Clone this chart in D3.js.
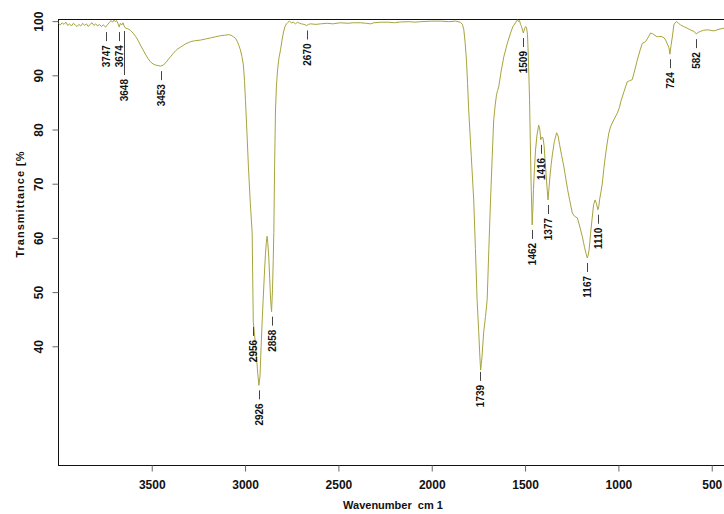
<!DOCTYPE html>
<meta charset="utf-8">
<style>

body {
  margin: 0;
  background: #fff;
}

.axis text {
  font-family: 'Liberation Sans', Arial, sans-serif;
  font-size: 12px;
  font-weight: bold;
  fill: #111;
}

.axis line {
  stroke: #666;
}

.axis path {
  display: none;
}

.frame {
  fill: none;
  stroke: #111;
  stroke-width: 1px;
}

.spectrum {
  fill: none;
  stroke: #a8a43c;
  stroke-width: 1px;
}

.leader {
  stroke: #444;
  stroke-width: 1px;
}

.peak-label {
  font-family: 'Liberation Sans', Arial, sans-serif;
  font-size: 10px;
  font-weight: bold;
  fill: #111;
}

.axis-title {
  font-family: 'Liberation Sans', Arial, sans-serif;
  font-size: 11px;
  font-weight: bold;
  fill: #111;
  white-space: pre;
}

</style>
<body>
<script src="https://d3js.org/d3.v7.min.js" charset="utf-8"></script>
<script>

// IR spectrum (wavenumber in cm-1, transmittance in %)
var wavenumbers = [
  4000, 3990, 3980, 3970, 3960, 3950, 3940, 3930, 3920, 3910,
  3900, 3890, 3880, 3870, 3860, 3850, 3840, 3830, 3820, 3810,
  3800, 3790, 3780, 3770, 3760, 3747, 3738, 3728, 3718, 3710,
  3702, 3695, 3688, 3680, 3674, 3668, 3660, 3654, 3648, 3640,
  3628, 3614, 3600, 3587, 3574, 3561, 3548, 3534, 3520, 3507,
  3493, 3480, 3466, 3453, 3437, 3421, 3410, 3400, 3386, 3373,
  3360, 3346, 3332, 3319, 3305, 3293, 3266, 3239, 3212, 3185,
  3160, 3132, 3110, 3089, 3075, 3062, 3050, 3041, 3033, 3025,
  3017, 3009, 3003, 2998, 2990, 2982, 2972, 2962, 2956, 2950,
  2940, 2932, 2926, 2920, 2914, 2908, 2903, 2897, 2891, 2886,
  2882, 2878, 2873, 2868, 2863, 2858, 2853, 2849, 2846, 2842,
  2837, 2832, 2826, 2818, 2810, 2802, 2794, 2786, 2778, 2770,
  2762, 2752, 2741, 2730, 2719, 2708, 2698, 2685, 2670, 2660,
  2650, 2620, 2596, 2560, 2530, 2489, 2450, 2420, 2382, 2350,
  2328, 2310, 2274, 2230, 2200, 2167, 2120, 2090, 2060, 2000,
  1953, 1910, 1872, 1846, 1836, 1828, 1821, 1814, 1808, 1802,
  1788, 1775, 1766, 1757, 1748, 1742, 1738, 1734, 1730, 1722,
  1712, 1703, 1694, 1685, 1676, 1668, 1660, 1653, 1647, 1641,
  1628, 1614, 1596, 1578, 1565, 1551, 1545, 1540, 1535, 1530,
  1524, 1519, 1509, 1503, 1497, 1492, 1487, 1482, 1476, 1472,
  1468, 1462, 1458, 1455, 1450, 1444, 1436, 1427, 1421, 1416,
  1410, 1404, 1398, 1393, 1385, 1377, 1371, 1366, 1360, 1354,
  1343, 1331, 1323, 1315, 1304, 1292, 1282, 1272, 1260, 1247,
  1235, 1220, 1206, 1193, 1187, 1181, 1174, 1167, 1162, 1157,
  1153, 1149, 1141, 1133, 1125, 1118, 1110, 1105, 1101, 1093,
  1086, 1078, 1069, 1060, 1051, 1042, 1033, 1020, 1006, 995,
  985, 970, 953, 940, 926, 912, 899, 885, 872, 855,
  840, 828, 818, 810, 792, 778, 765, 755, 747, 738,
  729, 724, 718, 711, 703, 696, 688, 678, 667, 650,
  632, 615, 596, 588, 582, 575, 560, 545, 524, 505,
  488, 470, 450, 435, 420, 400
];

var transmittance = [
  99.6, 99.3, 99.7, 99.4, 99.8, 99.2, 99.5, 99.1, 99.6, 99.3,
  99.0, 99.4, 99.1, 99.6, 99.2, 99.5, 99.0, 99.4, 99.7, 99.2,
  99.5, 99.1, 99.4, 99.0, 99.3, 98.9, 99.3, 99.7, 100.1, 99.8,
  100.2, 99.9, 100.1, 99.5, 98.9, 99.6, 99.3, 99.7, 99.1, 98.7,
  98.6, 98.3, 97.8, 97.2, 96.5, 95.6, 94.8, 93.9, 93.1, 92.5,
  92.1, 91.9, 91.8, 91.7, 91.9, 92.5, 93.0, 93.4, 94.0, 94.5,
  94.9, 95.2, 95.5, 95.8, 96.0, 96.2, 96.4, 96.5, 96.7, 96.9,
  97.1, 97.3, 97.4, 97.5, 97.4, 97.1, 96.8, 96.2, 95.5, 94.7,
  93.5, 91.9, 89.0, 85.5, 79.5, 73.1, 66.5, 60.9, 44.5, 42.5,
  38.5, 35.0, 32.8, 34.5, 40.0, 45.0, 48.6, 53.0, 56.9, 59.2,
  60.3, 59.0, 56.5, 52.5, 48.5, 46.4, 50.5, 56.0, 61.0, 72.5,
  83.6, 88.0, 91.0, 93.3, 94.7, 96.5, 98.0, 99.0, 99.5, 99.8,
  100.0, 99.7, 99.8, 99.5, 99.8, 99.6, 99.5, 99.4, 99.2, 99.4,
  99.5, 99.4, 99.5, 99.6, 99.5, 99.7, 99.6, 99.7, 99.7, 99.6,
  99.5, 99.7, 99.8, 99.8, 99.7, 99.85, 99.9, 99.8, 99.9, 100.0,
  100.0, 99.9, 100.0, 99.8, 99.4, 98.4, 96.0, 92.8, 88.5, 83.6,
  75.0, 67.0, 58.0, 48.6, 42.5, 38.0, 35.6, 36.8, 38.4, 42.5,
  45.5, 48.6, 58.0, 67.0, 75.0, 81.8, 84.5, 86.4, 87.2, 87.9,
  90.8, 93.4, 95.8, 97.8, 99.0, 99.7, 100.1, 100.2, 99.9, 100.1,
  99.4, 99.0, 97.8, 98.6, 99.0, 98.8, 97.5, 93.0, 85.5, 78.0,
  70.7, 62.4, 65.5, 68.9, 72.5, 76.2, 79.0, 80.8, 80.0, 78.1,
  78.6, 78.5, 77.0, 74.4, 70.5, 67.0, 69.5, 71.6, 73.6, 75.3,
  77.8, 79.4, 78.8, 77.2, 75.2, 73.1, 71.0, 68.9, 66.8, 64.6,
  64.0, 63.7, 62.0, 60.2, 59.2, 58.2, 57.2, 56.3, 56.8, 57.8,
  59.2, 60.9, 63.5, 66.1, 67.0, 66.4, 65.2, 65.8, 67.0, 68.6,
  70.1, 72.8, 75.3, 77.5, 79.4, 80.5, 81.2, 82.1, 83.0, 84.0,
  85.4, 87.0, 88.8, 89.0, 89.2, 91.0, 92.8, 94.5, 95.9, 96.2,
  97.0, 97.8, 97.7, 97.5, 97.1, 97.2, 97.1, 96.9, 96.5, 95.8,
  95.1, 93.9, 95.5, 97.1, 99.3, 99.7, 99.9, 99.6, 99.3, 99.0,
  98.7, 98.4, 98.1, 97.9, 97.6, 97.9, 98.1, 98.3, 98.4, 98.3,
  98.2, 98.4, 98.6, 98.7, 98.6, 98.7
];

// labelled peaks
var peaks = [3747, 3674, 3648, 3453, 2956, 2926, 2858, 2670, 1739, 1509,
             1462, 1416, 1377, 1167, 1110, 724, 582];

var xTicks = [3500, 3000, 2500, 2000, 1500, 1000, 500];
var yTicks = [40, 50, 60, 70, 80, 90, 100];

var width = 724,
    height = 514;

var x = d3.scaleLinear()
    .domain([4000, 400])
    .range([58.4, 730.4]);

var y = d3.scaleLinear()
    .domain([18.1, 100.3])
    .range([465, 19.5]);

var svg = d3.select("body").append("svg")
    .attr("width", width)
    .attr("height", height);

var spectrum = wavenumbers.map((wn, i) => ({ wn: wn, t: transmittance[i] }));

// linear lookup of the curve at a given wavenumber
function tAt(wn) {
  for (var i = 1; i < spectrum.length; i++) {
    var a = spectrum[i - 1], b = spectrum[i];
    if (wn <= a.wn && wn >= b.wn) {
      var f = (a.wn - wn) / (a.wn - b.wn);
      return a.t + f * (b.t - a.t);
    }
  }
  return 100;
}

// frame
svg.append("rect")
    .attr("class", "frame")
    .attr("x", 58.5)
    .attr("y", 19.5)
    .attr("width", 680)
    .attr("height", 446);

// x axis
svg.append("g")
    .attr("class", "axis")
    .attr("transform", "translate(0,465.5)")
    .call(d3.axisBottom(x)
      .tickValues(xTicks)
      .tickSize(6)
      .tickPadding(9)
      .tickFormat(d3.format("d")));

// y axis, labels turned upright like the original
var yAxis = svg.append("g")
    .attr("class", "axis")
    .attr("transform", "translate(58.5,0)")
    .call(d3.axisLeft(y)
      .tickValues(yTicks)
      .tickSize(6)
      .tickFormat(d3.format("d")));

yAxis.selectAll(".tick text")
    .attr("x", null)
    .attr("dy", "0.35em")
    .attr("text-anchor", "middle")
    .attr("transform", "translate(-20,0) rotate(-90)");

// the spectrum
var line = d3.line()
    .x(d => x(d.wn))
    .y(d => y(d.t));

svg.append("path")
    .datum(spectrum)
    .attr("class", "spectrum")
    .attr("d", line);

// peak marks: short leader below the curve, then the value
var labelDrop = { 3648: 35 };

var marks = svg.selectAll(".peak")
    .data(peaks)
  .enter()
    .append("g")
    .attr("class", "peak");

marks.append("line")
    .attr("class", "leader")
    .attr("x1", d => Math.round(x(d)) + 0.5)
    .attr("x2", d => Math.round(x(d)) + 0.5)
    .attr("y1", d => y(tAt(d)) + 5)
    .attr("y2", d => y(tAt(d)) + 14 + (labelDrop[d] || 0));

marks.append("text")
    .attr("class", "peak-label")
    .attr("text-anchor", "end")
    .attr("dy", "0.35em")
    .attr("transform", d => `translate(${x(d) + 0.5},${y(tAt(d)) + 18 + (labelDrop[d] || 0)}) rotate(-90)`)
    .text(d => d);

// axis titles
svg.append("text")
    .attr("class", "axis-title")
    .attr("x", 393)
    .attr("y", 508.5)
    .attr("text-anchor", "middle")
    .text("Wavenumber  cm 1");

svg.append("text")
    .attr("class", "axis-title")
    .attr("text-anchor", "middle")
    .attr("dy", "0.35em")
    .attr("transform", "translate(20,204) rotate(-90)")
    .style("letter-spacing", "1px")
    .text("Transmittance [%");

</script>
